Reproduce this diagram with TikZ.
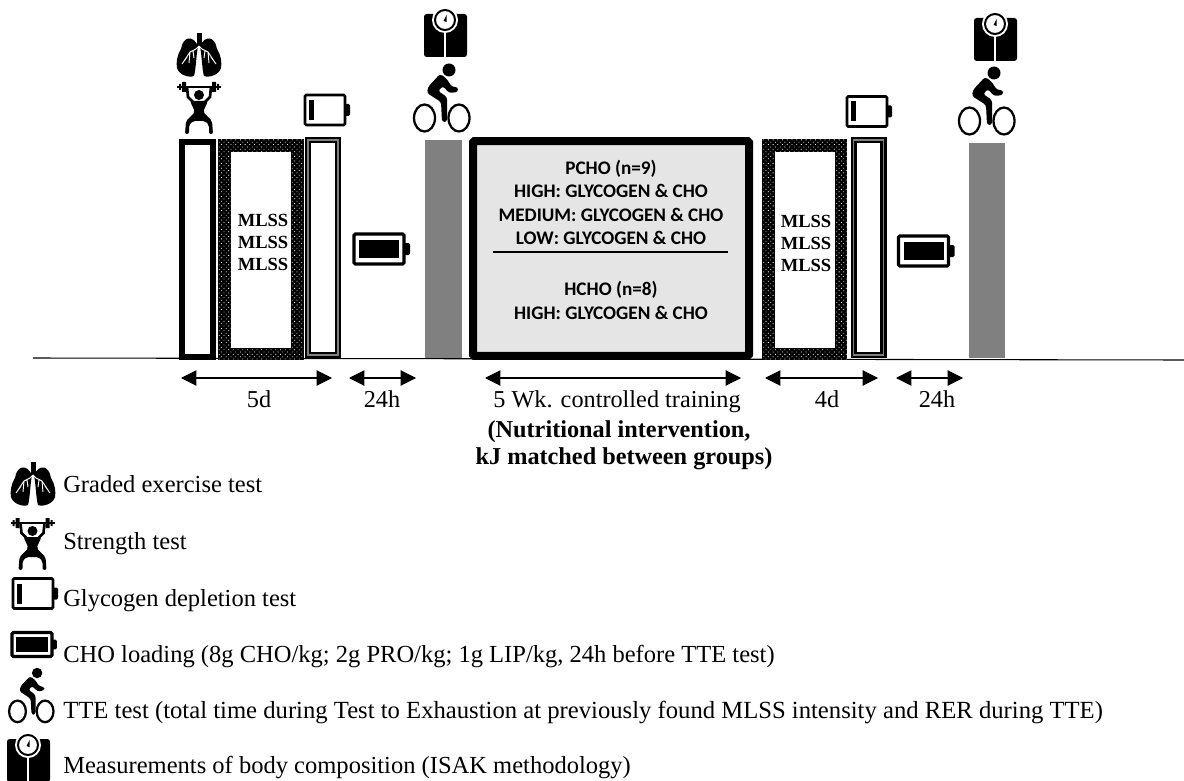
\documentclass[tikz,border=0pt]{standalone}
\usepackage{fontspec}
\setmainfont{Liberation Serif}
\newfontfamily\boxfont{Carlito}
\usepackage{tikz}
\usetikzlibrary{positioning, arrows.meta, patterns.meta}

\tikzset{
    lungs/.pic={
        \fill (-2.5,-22) rectangle (2.5,-8);
        \fill (-1,-9) .. controls (-6,-20) and (-16,-19) .. (-18,-6) .. controls (-22,0) and (-23,8) .. (-22,13) .. controls (-20,20) and (-10,23) .. (-5,21) .. controls (-3,14) and (-3,2) .. cycle;
        \fill (1,-9) .. controls (6,-20) and (16,-19) .. (18,-6) .. controls (22,0) and (23,8) .. (22,13) .. controls (20,20) and (10,23) .. (5,21) .. controls (3,14) and (3,2) .. cycle;
        \draw[white, line width=0.7pt] (0,-9) -- (-3,-6) -- (-9,-3) -- (-15,6) (-9,-3) -- (-10,8) (-6,-4) -- (-5,3) (-12,2) -- (-17,9);
        \draw[white, line width=0.7pt] (0,-9) -- (3,-6) -- (9,-3) -- (15,6) (9,-3) -- (10,8) (6,-4) -- (5,3) (12,2) -- (17,9);
    },
    lifter/.pic={
        \fill (0,8) circle (5);
        \draw[line width=1.4pt] (-22,0) -- (22,0);
        \fill (-20,-3) rectangle (-18,3) (18,-3) rectangle (20,3);
        \fill (-17,-5) rectangle (-13,5) (13,-5) rectangle (17,5);
        \draw[line width=2pt] (-12,0) -- (-11,10) -- (-6,15) (12,0) -- (11,10) -- (6,15);
        \fill[rounded corners=1.5pt] (-9,14) -- (9,14) -- (4,25) -- (13,34) -- (14,47) -- (10,47) -- (10,38) -- (6,34) -- (-6,34) -- (-10,38) -- (-10,47) -- (-14,47) -- (-13,34) -- (-4,25) -- cycle;
    },
    emptybatt/.pic={
        \draw[line width=2pt, rounded corners=1pt] (-20,-15) rectangle (20,15);
        \fill[rounded corners=1pt] (20,-6) rectangle (25,6);
        \fill (-16,-10) rectangle (-11,10);
    },
    fullbatt/.pic={
        \draw[line width=2.4pt, rounded corners=1pt] (-25,-15) rectangle (25,15);
        \fill[rounded corners=1pt] (25,-6) rectangle (31,6);
        \fill (-20,-9) rectangle (20,9);
    },
    cyclist/.pic={
        \fill (7,-35) circle (6.5);
        \fill[rounded corners=2pt] (-2,-31) -- (4,-27) -- (10,-18) -- (16,-18) -- (16,-13) -- (7,-12) -- (1,-19) -- (-4,-14) -- (5,-8) -- (5,17) -- (0,17) -- (-1,-3) -- (-15,-12) -- (-14,-18) -- cycle;
        \draw[line width=1.7pt] (-17.5,13) ellipse (10.5 and 13.5) (17,13) ellipse (10.5 and 13.5);
    },
    weighscale/.pic={
        \fill[rounded corners=2pt] (-21,-6) rectangle (22,37);
        \fill[white] (0,0) circle (13);
        \draw[line width=1.5pt] (0,0) circle (10);
        \fill (-1.5,1) -- (1.5,-5) -- (1.5,2) -- cycle;
        \draw[white, line width=1pt] (0,12) -- (0,37);
    },
    timebar/.style={rectangle, draw, line width=4.5pt, fill=white, minimum width=23.5pt, minimum height=161pt, inner sep=0pt},
    dotbox/.style={rectangle, minimum width=64pt, minimum height=165pt, preaction={fill=black}, pattern={Dots[angle=45, distance=2.5pt, radius=0.42pt]}, pattern color=white, inner sep=0pt},
    dotinner/.style={rectangle, fill=white, minimum width=45pt, minimum height=147pt, inner sep=0pt},
    mlss/.style={inner sep=0pt, align=center, font=\bfseries\fontsize{13.9}{16.5}\selectfont},
    doublebar/.style={rectangle, draw, double=black!50, double distance=1pt, line width=1.8pt, fill=white, minimum width=22.4pt, minimum height=161pt, inner sep=0pt},
    greybar/.style={rectangle, fill=black!50, minimum width=27.5pt, inner sep=0pt},
    span/.style={{Triangle[width=11.5pt,length=11.5pt]}-{Triangle[width=11.5pt,length=11.5pt]}, line width=0.8pt},
    lab/.style={inner sep=0pt, anchor=base, font=\fontsize{18.2}{20}\selectfont},
    boldlab/.style={inner sep=0pt, anchor=base, font=\bfseries\fontsize{18.2}{20}\selectfont},
    boxtext/.style={inner sep=0pt, align=center, font=\boxfont\bfseries\fontsize{14.4}{17.5}\selectfont},
    legend/.style={inner sep=0pt, anchor=base west, font=\fontsize{18.4}{20}\selectfont}
}

\begin{document}
\begin{tikzpicture}[x=0.75pt, y=-0.75pt]
\useasboundingbox (0,0) rectangle (1184,781);

% Baseline
\coordinate (lineL) at (33,358);
\coordinate (lineR) at (1184,360);
\draw[line width=0.8pt] (lineL) -- (lineR);

% Left block
\node[timebar] (start) at (197.5,249.5) {};
\node[dotbox] (mlssA) at (261,249.5) {};
\node[dotinner] (mlssAin) at (261,250) {};
\node[mlss] (textA) at (263,242) {MLSS\\MLSS\\MLSS};
\node[doublebar] (depA) at (323,247.5) {};
\node[greybar, minimum height=163.5pt] (ttA) at (443.5,249) {};

% Centre block
\node[rectangle, draw, line width=6pt, fill=black!10, rounded corners=1pt, minimum width=207pt, minimum height=161pt, inner sep=0pt] (centre) at (611,248.5) {};
\node[boxtext] (pcho) at (611,202.5) {PCHO (n=9)\\HIGH: GLYCOGEN \& CHO\\MEDIUM: GLYCOGEN \& CHO\\LOW: GLYCOGEN \& CHO};
\coordinate (ruleL) at (493,252);
\coordinate (ruleR) at (728,252);
\draw[line width=0.9pt] (ruleL) -- (ruleR);
\node[boxtext] (hcho) at (611,300.5) {HCHO (n=8)\\HIGH: GLYCOGEN \& CHO};

% Right block
\node[dotbox] (mlssB) at (804.5,249.5) {};
\node[dotinner] (mlssBin) at (805,250) {};
\node[mlss] (textB) at (806,243) {MLSS\\MLSS\\MLSS};
\node[doublebar] (depB) at (868.5,247.5) {};
\node[greybar, minimum height=161pt] (ttB) at (987,250.5) {};

% Icons
\pic at (199,55) {lungs};
\pic at (199,87) {lifter};
\pic at (325,110) {emptybatt};
\pic at (379,249) {fullbatt};
\pic at (442,105) {cyclist};
\pic at (445,20) {weighscale};
\pic at (867,111.5) {emptybatt};
\pic at (923.5,251) {fullbatt};
\pic at (987,108) {cyclist};
\pic at (995,24) {weighscale};

% Arrows
\coordinate (a1) at (181,378); \coordinate (a2) at (332,378);
\coordinate (b1) at (349,378); \coordinate (b2) at (416,378);
\coordinate (c1) at (485,378); \coordinate (c2) at (741,378);
\coordinate (d1) at (765,378); \coordinate (d2) at (878,378);
\coordinate (e1) at (896,378); \coordinate (e2) at (963,378);
\draw[span] (a1) -- (a2);
\draw[span] (b1) -- (b2);
\draw[span] (c1) -- (c2);
\draw[span] (d1) -- (d2);
\draw[span] (e1) -- (e2);

% Labels under the arrows
\node[lab] (l5d) at (259,407) {5d};
\node[lab] (l24a) at (382,407) {24h};
\node[lab] (ltrain) at (617,407) {5 Wk. controlled training};
\node[boldlab] (lnut) at (619,437) {(Nutritional intervention,};
\node[boldlab] (lkj) at (624,464) {kJ matched between groups)};
\node[lab] (l4d) at (827,407) {4d};
\node[lab] (l24b) at (937,407) {24h};

% Legend
\pic at (33,484) {lungs};
\pic at (32.5,523) {lifter};
\pic at (33,593.5) {emptybatt};
\pic[scale=0.8] at (32,644.5) {fullbatt};
\pic[scale=0.8] at (31.5,701) {cyclist};
\pic at (28,745) {weighscale};

\node[legend] (t1) at (63,492) {Graded exercise test};
\node[legend] (t2) at (63,549) {Strength test};
\node[legend] (t3) at (63,606) {Glycogen depletion test};
\node[legend] (t4) at (63,662) {CHO loading (8g CHO/kg; 2g PRO/kg; 1g LIP/kg, 24h before TTE test)};
\node[legend, font=\fontsize{18.5}{20}\selectfont] (t5) at (63,718) {TTE test (total time during Test to Exhaustion at previously found MLSS intensity and RER during TTE)};
\node[legend] (t6) at (63,773) {Measurements of body composition (ISAK methodology)};

\end{tikzpicture}
\end{document}
